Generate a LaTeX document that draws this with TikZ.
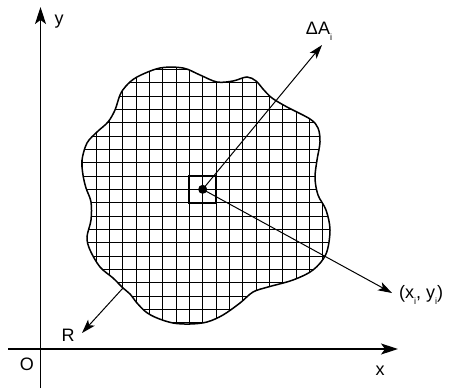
\documentclass[tikz,border=0pt]{standalone}
\usepackage{fontspec}
\setmainfont{Liberation Sans}
\usetikzlibrary{arrows.meta}
\newcommand\sbi{\raisebox{-0.3em}{\fontsize{9}{9}\selectfont i}}
\begin{document}
\begin{tikzpicture}[x=1pt,y=-1pt,
  lbl/.style={inner sep=0pt,font=\fontsize{18}{20}\selectfont},
  axis/.style={line width=1.3pt,-{Stealth[length=17pt,width=11pt,inset=4pt]}},
  vec/.style={line width=1pt,-{Stealth[length=14pt,width=9pt,inset=3.5pt]}},
  gridline/.style={line width=0.9pt},
  outline/.style={line width=1.5pt}]
\useasboundingbox (0,0) rectangle (457,388);
% axes
\coordinate (ybot) at (40.5,388);
\coordinate (ytop) at (40.5,7);
\coordinate (xleft) at (8,349);
\coordinate (xright) at (398,349);
\draw[axis] (ybot) -- (ytop);
\draw[axis] (xleft) -- (xright);
\node[lbl] (ylab) at (59,22) {y};
\node[lbl] (xlab) at (380,371) {x};
\node[lbl] (olab) at (27,364) {O};
% blob
\def\blob{plot[smooth cycle,tension=0.55] coordinates {
 (160,68) (183,68) (200,75) (217,82) (233,81) (247,77) (256,81) (263,89)
 (272,98) (287,107) (310,119) (318,128) (320,142) (317,160) (315,178)
 (318,195) (326,210) (330,230) (326,254) (313,270) (293,280) (268,287)
 (253,292) (240,303) (223,315) (207,322) (190,324) (173,323) (157,318)
 (146,312) (137,303) (130,294) (123,288) (113,278) (100,267) (90,250)
 (87,237) (91,220) (91,202) (86,188) (83,175) (82,160) (87,143) (97,132)
 (108,122) (115,110) (120,95) (126,86) (137,77)}}
\begin{scope}
\clip \blob;
\foreach \k in {-10,...,10}{
  \draw[gridline] (202.667+13.333*\k,50) -- (202.667+13.333*\k,340);
  \draw[gridline] (70,189.333+13.333*\k) -- (340,189.333+13.333*\k);
}
\end{scope}
\draw[outline] \blob;
% element
\node[draw,line width=2pt,minimum size=26.7pt,inner sep=0pt] (sq) at (202.667,189.333) {};
\node[circle,fill,inner sep=0pt,minimum size=9pt] (c) at (202.667,189.333) {};
\coordinate (tipA) at (322,45);
\coordinate (tipX) at (392,293);
\coordinate (rstart) at (123,288);
\coordinate (tipR) at (82,333);
\draw[vec] (c.center) -- (tipA);
\draw[vec] (c.center) -- (tipX);
\draw[vec] (rstart) -- (tipR);
\node[lbl] (dA) at (319,31.5) {ΔA\sbi};
\node[lbl,anchor=west] (xy) at (399,295) {(x\sbi, y\sbi)};
\node[lbl] (rlab) at (68,335) {R};
\end{tikzpicture}
\end{document}
